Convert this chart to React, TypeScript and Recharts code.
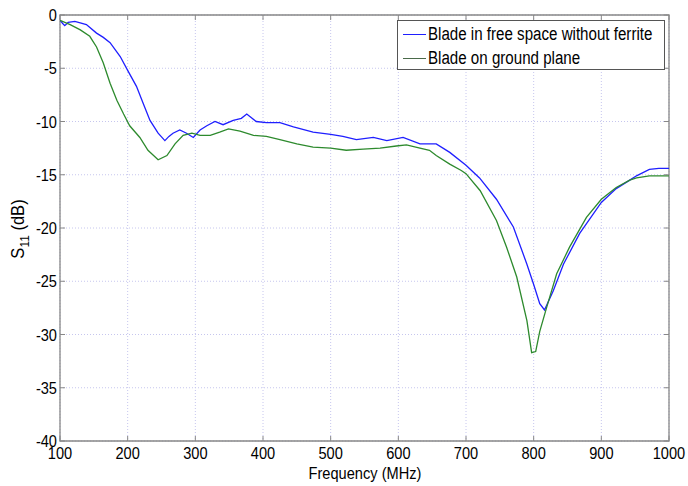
import { LineChart, Line, XAxis, YAxis, CartesianGrid, ReferenceArea } from 'recharts';

// frequency (MHz) and S11 (dB)
const blueFreq = [
  100, 104, 107, 112, 122, 139, 154, 164, 174, 189, 200, 213, 223, 233, 245, 255, 261, 267, 277, 287,
  297, 307, 317, 329, 341, 356, 368, 376, 390, 405, 425, 445, 474, 500, 518, 538, 563, 583, 607, 632,
  656, 676, 700, 720, 745, 770, 790, 800, 809, 816, 829, 844, 868, 900, 922, 942, 952, 971, 985, 1000,
];
const blueS11 = [
  -0.5, -0.8, -1.0, -0.7, -0.6, -0.9, -1.7, -2.1, -2.6, -3.9, -5.2, -6.7, -8.3, -9.9, -11.1, -11.8, -11.4, -11.1, -10.8, -11.1,
  -11.5, -10.8, -10.4, -10.0, -10.3, -9.9, -9.7, -9.3, -10.0, -10.1, -10.1, -10.5, -11.0, -11.2, -11.4, -11.7, -11.5, -11.8, -11.5, -12.1,
  -12.1, -12.9, -14.1, -15.3, -17.3, -19.9, -23.4, -25.3, -27.1, -27.7, -25.9, -23.4, -20.5, -17.6, -16.3, -15.5, -15.1, -14.5, -14.4, -14.4,
];

const greenFreq = [
  100, 115, 130, 144, 154, 164, 174, 184, 194, 203, 218, 230, 245, 258, 270, 282, 295, 307, 322, 336,
  349, 366, 386, 405, 425, 450, 474, 500, 523, 548, 573, 597, 612, 632, 646, 656, 676, 693, 700, 721,
  745, 760, 775, 790, 797, 803, 809, 819, 834, 853, 878, 900, 922, 942, 952, 971, 1000,
];
const greenS11 = [
  -0.5, -0.9, -1.4, -2.0, -3.0, -4.5, -6.4, -8.0, -9.3, -10.4, -11.5, -12.7, -13.6, -13.2, -12.1, -11.3, -11.1, -11.3, -11.3, -11.0,
  -10.7, -10.9, -11.3, -11.4, -11.7, -12.1, -12.4, -12.5, -12.7, -12.6, -12.5, -12.3, -12.2, -12.5, -12.7, -13.2, -14.0, -14.6, -14.9, -16.5,
  -19.3, -21.8, -24.6, -28.7, -31.7, -31.6, -29.7, -27.5, -24.3, -21.8, -19.0, -17.3, -16.2, -15.5, -15.3, -15.1, -15.1,
];

const seriesNames = ['Blade in free space without ferrite', 'Blade on ground plane'];

const xTicks = [100, 200, 300, 400, 500, 600, 700, 800, 900, 1000];
const yTicks = [0, -5, -10, -15, -20, -25, -30, -35, -40];

const blueData = blueFreq.map((f, i) => ({ freq: f, s11: blueS11[i] }));
const greenData = greenFreq.map((f, i) => ({ freq: f, s11: greenS11[i] }));

const BLUE = '#1f1fff';
const GREEN = '#2d8a2d';
const FONT = '"Liberation Sans", Arial, sans-serif';
const SQUEEZE = 0.86; // the original uses a narrow helvetica
const PLOT_TOP = 15;
const PLOT_RIGHT = 669;

const XTick = (props: any) => {
  const { x, y, payload } = props;
  return (
    <g>
      <line x1={x} x2={x} y1={y} y2={y - 5} stroke="#888" />
      <line x1={x} x2={x} y1={PLOT_TOP} y2={PLOT_TOP + 5} stroke="#888" />
      <text transform={`translate(${x},${y + 18}) scale(${SQUEEZE},1)`} textAnchor="middle" fontSize={17} fontFamily={FONT} fill="#000">
        {payload.value}
      </text>
    </g>
  );
};

const YTick = (props: any) => {
  const { x, y, payload } = props;
  return (
    <g>
      <line x1={x} x2={x + 5} y1={y} y2={y} stroke="#888" />
      <line x1={PLOT_RIGHT} x2={PLOT_RIGHT - 5} y1={y} y2={y} stroke="#888" />
      <text transform={`translate(${x - 3},${y + 6}) scale(${SQUEEZE},1)`} textAnchor="end" fontSize={17} fontFamily={FONT} fill="#000">
        {payload.value}
      </text>
    </g>
  );
};

const XLabel = () => (
  <text transform={`translate(365,479) scale(${SQUEEZE},1)`} textAnchor="middle" fontSize={17} fontFamily={FONT} fill="#000">
    Frequency (MHz)
  </text>
);

const YLabel = () => (
  <text transform={`translate(24,229) rotate(-90) scale(0.92,1)`} textAnchor="middle" fontSize={18} fontFamily={FONT} fill="#000">
    S<tspan fontSize={13} dy={5}>11</tspan>
    <tspan dy={-5}> (dB)</tspan>
  </text>
);

const LegendBox = () => (
  <div
    style={{
      position: 'absolute',
      left: 397,
      top: 20,
      width: 268,
      height: 50,
      border: '1px solid #555',
      background: '#fff',
      fontFamily: FONT,
      fontSize: 18,
      padding: '1px 0 0 5px',
      lineHeight: '24px',
      boxSizing: 'border-box',
    }}
  >
    {[
      { name: seriesNames[0], color: BLUE },
      { name: seriesNames[1], color: '#4a6a4a' },
    ].map((e) => (
      <div key={e.name} style={{ display: 'flex', alignItems: 'center', whiteSpace: 'nowrap' }}>
        <span style={{ display: 'inline-block', width: 23, height: 0, borderTop: `1px solid ${e.color}`, marginRight: 2, flex: 'none' }} />
        <span style={{ display: 'inline-block', transform: 'scale(0.84,1)', transformOrigin: 'left center' }}>{e.name}</span>
      </div>
    ))}
  </div>
);

export default function App() {
  return (
    <div style={{ position: 'absolute', left: 0, top: 0, width: 688, height: 486, background: '#fff' }}>
      <LineChart width={688} height={486} margin={{ top: 15, right: 19, bottom: 15, left: 10 }}>
        <CartesianGrid stroke="#c6c6ee" strokeDasharray="1 2" />
        <XAxis
          type="number"
          dataKey="freq"
          domain={[100, 1000]}
          ticks={xTicks}
          allowDataOverflow
          height={30}
          tickSize={0}
          tickMargin={0}
          tickLine={false}
          axisLine={false}
          tick={<XTick />}
          label={<XLabel />}
        />
        <YAxis
          type="number"
          domain={[-40, 0]}
          ticks={yTicks}
          allowDataOverflow
          width={50}
          tickSize={0}
          tickMargin={0}
          tickLine={false}
          axisLine={false}
          tick={<YTick />}
          label={<YLabel />}
        />
        <ReferenceArea x1={100} x2={1000} y1={-40} y2={0} fill="none" stroke="#888" strokeWidth={1.3} ifOverflow="visible" />
        <Line data={blueData} dataKey="s11" type="linear" stroke={BLUE} strokeWidth={1.3} dot={false} isAnimationActive={false} name={seriesNames[0]} />
        <Line data={greenData} dataKey="s11" type="linear" stroke={GREEN} strokeWidth={1.3} dot={false} isAnimationActive={false} name={seriesNames[1]} />
      </LineChart>
      <LegendBox />
    </div>
  );
}
